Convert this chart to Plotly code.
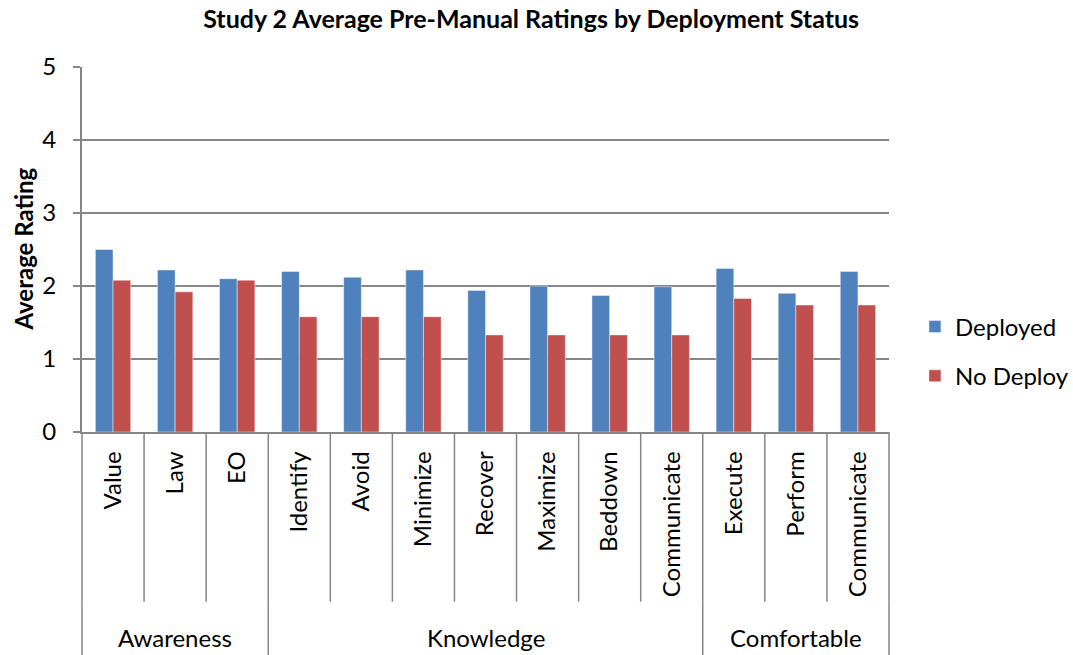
import plotly.graph_objects as go

# ---- data ----
categories = ["Value", "Law", "EO", "Identify", "Avoid", "Minimize", "Recover",
              "Maximize", "Beddown", "Communicate", "Execute", "Perform", "Communicate"]
groups = ["Awareness", "Knowledge", "Comfortable"]
group_sizes = [3, 7, 3]
deployed = [2.50, 2.22, 2.10, 2.20, 2.12, 2.22, 1.94, 2.00, 1.87, 1.99, 2.24, 1.90, 2.20]
no_deploy = [2.08, 1.92, 2.08, 1.58, 1.58, 1.58, 1.33, 1.33, 1.33, 1.33, 1.83, 1.74, 1.74]
series_names = ["Deployed", "No Deploy"]
series_colors = ["#4F81BD", "#C0504D"]
y_ticks = [0, 1, 2, 3, 4, 5]

FONT = "Lato, Carlito, 'Liberation Sans', sans-serif"
GRID = "#868686"

x = list(range(len(categories)))
n = len(categories)

fig = go.Figure()
for i, (name, vals, col) in enumerate(zip(series_names, [deployed, no_deploy], series_colors)):
    fig.add_trace(go.Bar(
        x=x, y=vals, name=name, legendgroup=name,
        marker=dict(color=col, line=dict(color="rgba(255,255,255,0.45)", width=1)),
    ))

shapes = []
# inner category separators
for k in range(n + 1):
    shapes.append(dict(type="line", xref="paper", yref="paper",
                       x0=k / n, x1=k / n, y0=0, y1=-0.465,
                       line=dict(color=GRID, width=1.5)))
# group boundaries (extend further)
cum = 0
bounds = [0]
for s in group_sizes:
    cum += s
    bounds.append(cum)
for b in bounds:
    shapes.append(dict(type="line", xref="paper", yref="paper",
                       x0=b / n, x1=b / n, y0=-0.465, y1=-0.62,
                       line=dict(color=GRID, width=1.5)))

annotations = []
for gi, g in enumerate(groups):
    c = (bounds[gi] + bounds[gi + 1]) / 2 / n
    annotations.append(dict(text=g, xref="paper", yref="paper", x=c, y=-0.562,
                            xanchor="center", yanchor="middle", showarrow=False,
                            font=dict(family=FONT, size=24, color="black")))
annotations.append(dict(text="<b>Average Rating</b>", xref="paper", yref="paper",
                        x=-0.073, y=0.5, xanchor="center", yanchor="middle",
                        textangle=-90, showarrow=False,
                        font=dict(family=FONT, size=24, color="black")))

fig.update_layout(
    width=1073, height=655,
    margin=dict(l=82, r=184, t=67, b=223),
    paper_bgcolor="white", plot_bgcolor="white",
    barmode="group", bargap=0.43, bargroupgap=0,
    font=dict(family=FONT, color="black"),
    title=dict(text="<b>Study 2 Average Pre-Manual Ratings by Deployment Status</b>",
               x=0.495, xref="container", xanchor="center",
               y=1 - 19 / 655, yanchor="middle",
               font=dict(family=FONT, size=25, color="black")),
    xaxis=dict(range=[-0.5, n - 0.5], tickmode="array", tickvals=x, ticktext=categories,
               tickangle=-90, ticks="", showline=True, linecolor=GRID, linewidth=1.5,
               showgrid=False, zeroline=False, ticklabelstandoff=8,
               tickfont=dict(family=FONT, size=24, color="black")),
    yaxis=dict(range=[0, 5], tickmode="array", tickvals=y_ticks,
               ticktext=[f"{v}\u00a0\u00a0" for v in y_ticks], showgrid=True,
               gridcolor=GRID, gridwidth=1.5, showline=True, linecolor=GRID, linewidth=1.5,
               ticks="outside", ticklen=7, tickcolor=GRID, tickwidth=1.5, zeroline=False,
               tickfont=dict(family=FONT, size=24, color="black")),
    legend=dict(xref="container", x=0.8527, xanchor="left", y=0.2205, yanchor="middle",
                font=dict(family=FONT, size=24, color="black"),
                tracegroupgap=15, bgcolor="rgba(0,0,0,0)"),
    shapes=shapes, annotations=annotations,
)

fig.write_html("out.html", config={"displayModeBar": False},
               post_script="document.body.style.margin='0';")
